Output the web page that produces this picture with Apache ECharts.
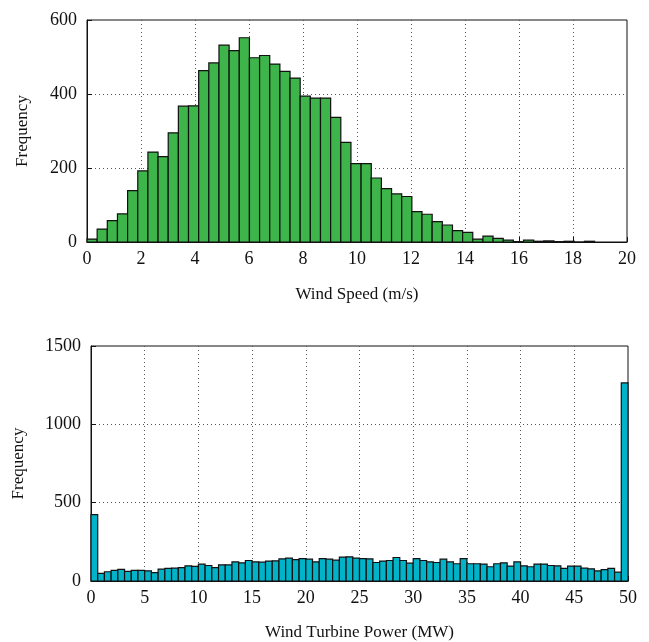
<!DOCTYPE html>
<html><head><meta charset="utf-8">
<script src="https://cdn.jsdelivr.net/npm/echarts@6/dist/echarts.min.js"></script>
<style>html,body{margin:0;padding:0;background:#fff}#c{width:649px;height:642px}</style>
</head><body><div id="c"></div>
<script>
// Wind speed histogram (50 bins)
const speedBinWidth = 0.376;
const speedCounts = [8, 35, 58, 76, 139, 192, 243, 231, 295, 367,
  368, 463, 484, 532, 517, 552, 498, 504, 481, 461,
  443, 394, 389, 389, 337, 269, 212, 212, 173, 144,
  130, 123, 82, 75, 55, 46, 31, 26, 8, 16,
  10, 5, 1, 5, 2, 3, 1, 2, 0, 2];
const speedAxis = {min: 0, max: 20, interval: 2};
const speedFreqAxis = {min: 0, max: 600, interval: 200};

// Wind turbine power histogram (80 bins)
const powerBinWidth = 0.625;
const powerCounts = [424, 49, 59, 68, 74, 61, 68, 68, 65, 53,
  76, 80, 82, 86, 97, 93, 108, 99, 86, 103,
  103, 122, 116, 131, 122, 120, 127, 129, 141, 146,
  137, 143, 139, 122, 143, 139, 133, 152, 154, 146,
  143, 141, 118, 127, 131, 150, 131, 114, 143, 131,
  122, 118, 139, 122, 110, 143, 110, 110, 108, 91,
  110, 116, 95, 122, 97, 91, 108, 108, 99, 97,
  80, 95, 95, 82, 78, 65, 72, 80, 57, 1264];
const powerAxis = {min: 0, max: 50, interval: 5};
const powerFreqAxis = {min: 0, max: 1500, interval: 500};

const FONT = '"Liberation Serif", "DejaVu Serif", serif';
const GREEN = '#3db54a';
const CYAN = '#00b3c9';

function toBins(counts, w) {
  return counts.map((v, i) => [i * w, (i + 1) * w, v]);
}

function renderBar(params, api) {
  const p0 = api.coord([api.value(0), api.value(2)]);
  const p1 = api.coord([api.value(1), 0]);
  return {
    type: 'rect',
    shape: {x: p0[0], y: p0[1], width: p1[0] - p0[0], height: p1[1] - p0[1]},
    style: {fill: api.visual('color'), stroke: '#111', lineWidth: 1.2}
  };
}

const splitStyle = {show: true, showMinLine: false, showMaxLine: false,
  lineStyle: {color: '#555', type: [1, 3], width: 1}};
const lbl = {color: '#111', fontFamily: FONT, fontSize: 18, formatter: v => String(v)};
const nameStyle = {color: '#111', fontFamily: FONT, fontSize: 17};

function xAx(gi, ax, name, gap) {
  return Object.assign({type: 'value', gridIndex: gi, name: name, nameLocation: 'middle', nameGap: gap,
    nameTextStyle: nameStyle,
    axisLine: {show: true, lineStyle: {color: '#111', width: 1}},
    axisTick: {show: true, inside: true, length: 5, lineStyle: {color: '#111'}},
    axisLabel: Object.assign({margin: 8}, lbl),
    splitLine: splitStyle}, ax);
}
function yAx(gi, ax, name, gap) {
  return Object.assign({type: 'value', gridIndex: gi, name: name, nameLocation: 'middle', nameGap: gap,
    nameTextStyle: nameStyle,
    axisLine: {show: true, lineStyle: {color: '#111', width: 1}},
    axisTick: {show: true, inside: true, length: 5, lineStyle: {color: '#111'}},
    axisLabel: Object.assign({margin: 10}, lbl),
    splitLine: splitStyle}, ax);
}

const chart = echarts.init(document.getElementById('c'), null, {renderer: 'canvas'});
chart.setOption({
  animation: false,
  backgroundColor: '#fff',
  grid: [
    {left: 87, top: 20, width: 540, height: 222, show: true, borderColor: '#111', borderWidth: 1},
    {left: 91, top: 346, width: 537, height: 237, show: true, borderColor: '#111', borderWidth: 1}
  ],
  xAxis: [
    xAx(0, speedAxis, 'Wind Speed (m/s)', 44),
    xAx(1, powerAxis, 'Wind Turbine Power (MW)', 43)
  ],
  yAxis: [
    yAx(0, speedFreqAxis, 'Frequency', 56),
    yAx(1, powerFreqAxis, 'Frequency', 64)
  ],
  series: [
    {type: 'custom', xAxisIndex: 0, yAxisIndex: 0, renderItem: renderBar,
      itemStyle: {color: GREEN}, encode: {x: [0, 1], y: 2},
      data: toBins(speedCounts, speedBinWidth)},
    {type: 'custom', xAxisIndex: 1, yAxisIndex: 1, renderItem: renderBar,
      itemStyle: {color: CYAN}, encode: {x: [0, 1], y: 2},
      data: toBins(powerCounts, powerBinWidth)}
  ]
});
</script></body></html>
